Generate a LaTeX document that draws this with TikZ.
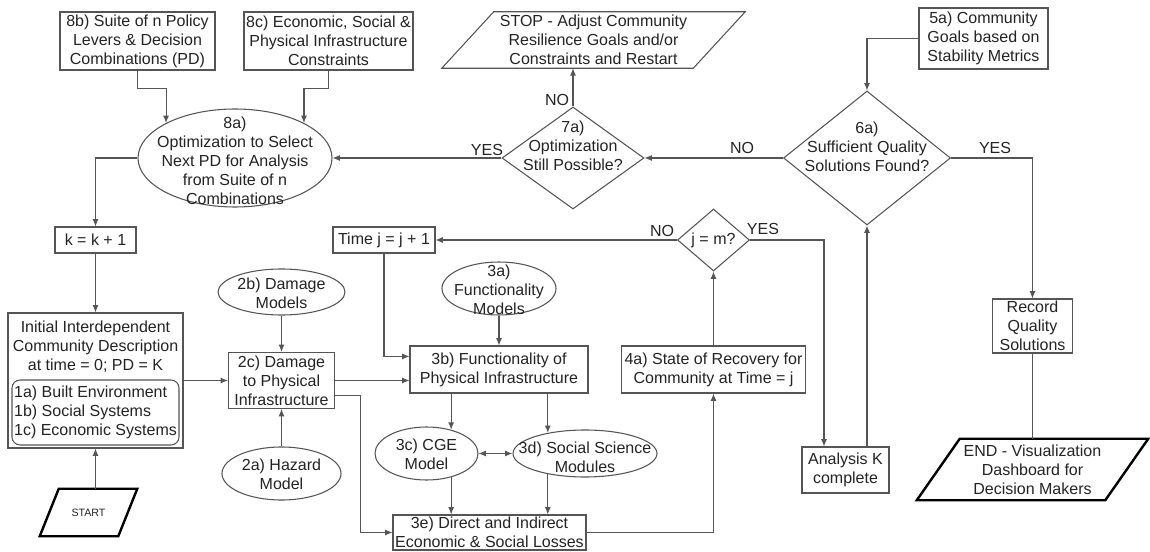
\documentclass[tikz,border=0pt]{standalone}
\usepackage{fontspec}
\setmainfont{Liberation Sans}
\usetikzlibrary{shapes.geometric,arrows.meta,calc}
\newdimen\pxu \pxu=0.75pt
\definecolor{lncol}{RGB}{85,85,85}
\definecolor{txcol}{RGB}{35,35,35}
\begin{document}
\begin{tikzpicture}[x=0.75pt,y=-0.75pt,
  font=\fontsize{12}{14.2}\selectfont,
  >={Latex[length=5.5pt,width=4.5pt]},
  every node/.style={text=txcol},
  box/.style={draw=lncol, line width=0.8pt, rectangle, inner sep=0pt, align=center},
  ell/.style={draw=lncol, line width=0.8pt, ellipse, inner sep=0pt},
  dia/.style={draw=lncol, line width=0.8pt, diamond, inner sep=0pt},
  txt/.style={align=center, inner sep=0pt},
  plain/.style={draw=lncol, line width=0.8pt},
  arr/.style={plain, ->},
  thickpar/.style={draw=black, line width=1.8pt, line join=miter}]
\useasboundingbox (0,0) rectangle (1150,552);

% top row
\node[box, minimum width=155\pxu, minimum height=58\pxu] (n8b) at (137.5,41) {8b) Suite of n Policy\\Levers \& Decision\\Combinations (PD)};
\node[box, minimum width=169\pxu, minimum height=58\pxu] (n8c) at (328.5,41) {8c) Economic, Social \&\\Physical Infrastructure\\Constraints};
\node[txt, minimum width=303\pxu, minimum height=56\pxu] (stop) at (593.5,40) {STOP - Adjust Community\\Resilience Goals and/or\\Constraints and Restart};
\draw[plain] (stop.south west) -- ($(stop.south east)+(-52,0)$) -- (stop.north east) -- ($(stop.north west)+(52,0)$) -- cycle;
\node[box, minimum width=129\pxu, minimum height=61\pxu] (n5a) at (983.5,38.5) {5a) Community\\Goals based on\\Stability Metrics};

% second row
\node[ell, minimum width=194\pxu, minimum height=98\pxu] (n8a) at (235,158) {};
\node[txt] (n8at) at (235,161) {8a)\\Optimization to Select\\Next PD for Analysis\\from Suite of n\\Combinations};
\node[dia, minimum width=142\pxu, minimum height=102\pxu] (d7a) at (573,158) {};
\node[txt] (d7at) at (573,146) {7a)\\Optimization\\Still Possible?};
\node[dia, minimum width=167\pxu, minimum height=134\pxu] (d6a) at (867,158) {};
\node[txt] (d6at) at (867,147) {6a)\\Sufficient Quality\\Solutions Found?};

\node[txt] (lyes7) at (487,150) {YES};
\node[txt] (lno6) at (742,148) {NO};
\node[txt] (lyes6) at (995,148) {YES};
\node[txt] (lno7) at (557,100) {NO};

% third row
\node[box, minimum width=81\pxu, minimum height=26\pxu] (nk) at (95.5,240) {k = k + 1};
\node[box, minimum width=102\pxu, minimum height=26\pxu] (tm) at (384,240) {Time j = j + 1};
\node[dia, minimum width=72\pxu, minimum height=62\pxu] (dj) at (713.5,240) {};
\node[txt] (djt) at (713.5,240) {j = m?};
\node[txt] (lnoj) at (662,231) {NO};
\node[txt] (lyesj) at (763,229) {YES};

% left block
\node[box, minimum width=175\pxu, minimum height=135\pxu] (init) at (95.5,380.5) {};
\node[txt] (initt) at (95.5,347) {Initial Interdependent\\Community Description\\at time = 0; PD = K};
\node[draw=lncol, line width=0.8pt, rounded corners=6pt, minimum width=167\pxu, minimum height=65\pxu, inner sep=0pt, align=left] (inner) at (95.5,412.5) {1a) Built Environment\\1b) Social Systems\\1c) Economic Systems};
\node[txt, minimum width=97\pxu, minimum height=47\pxu, font=\fontsize{8}{9}\selectfont] (start) at (88.5,512.5) {START};
\draw[thickpar] (start.south west) -- ($(start.south east)+(-19,0)$) -- (start.north east) -- ($(start.north west)+(19,0)$) -- cycle;

% damage column
\node[ell, minimum width=127\pxu, minimum height=46\pxu] (n2b) at (281.5,292) {};
\node[txt] (n2bt) at (281.5,293) {2b) Damage\\Models};
\node[box, minimum width=106\pxu, minimum height=56\pxu] (n2c) at (281.5,380.5) {2c) Damage\\to Physical\\Infrastructure};
\node[ell, minimum width=119\pxu, minimum height=53\pxu] (n2a) at (281.5,473.5) {};
\node[txt] (n2at) at (281.5,474) {2a) Hazard\\Model};

% functionality column
\node[ell, minimum width=114\pxu, minimum height=53\pxu] (n3a) at (499,288.5) {};
\node[txt] (n3at) at (499,290) {3a)\\Functionality\\Models};
\node[box, minimum width=178\pxu, minimum height=47\pxu] (n3b) at (499,369.5) {3b) Functionality of\\Physical Infrastructure};
\node[ell, minimum width=103\pxu, minimum height=53\pxu] (n3c) at (426.5,453.5) {};
\node[txt] (n3ct) at (426.5,454) {3c) CGE\\Model};
\node[ell, minimum width=144\pxu, minimum height=47\pxu] (n3d) at (585,453.5) {};
\node[txt] (n3dt) at (585,457) {3d) Social Science\\Modules};
\node[box, minimum width=193\pxu, minimum height=35\pxu] (n3e) at (489.5,532.5) {3e) Direct and Indirect\\Economic \& Social Losses};
\node[box, minimum width=184\pxu, minimum height=47\pxu] (n4a) at (713.5,369.5) {4a) State of Recovery for\\Community at Time = j};

% right side
\node[box, minimum width=87\pxu, minimum height=46\pxu] (nak) at (845.5,470) {Analysis K\\complete};
\node[box, minimum width=80\pxu, minimum height=54\pxu] (rec) at (1032.5,326) {Record\\Quality\\Solutions};
\node[txt, minimum width=231\pxu, minimum height=61\pxu] (fin) at (1032.5,469.5) {END - Visualization\\Dashboard for\\Decision Makers};
\draw[thickpar] (fin.south west) -- ($(fin.south east)+(-43,0)$) -- (fin.north east) -- ($(fin.north west)+(43,0)$) -- cycle;

% connectors
\draw[arr] (n8b.south) -- ++(0,18) -| (n8a.north west);
\draw[arr] (n8c.south) -- ++(0,18) -| (n8a.north east);
\draw[arr] (n8a.west) -| (nk.north);
\draw[arr] (nk.south) -- (init.north);
\draw[arr] (start.north -| init.south) -- (init.south);
\draw[arr] (init.east) -- (n2c.west);
\draw[arr] (n2b.south) -- (n2c.north);
\draw[arr] (n2a.north) -- (n2c.south);
\draw[arr] (n2c.east) -- (n2c.east -| n3b.west);
\draw[arr] ($(n2c.east)+(0,15)$) -- ++(25,0) |- (n3e.west);
\draw[arr] (tm.south) |- ($(n3b.north west)+(0,11)$);
\draw[arr] (dj.west) -- (tm.east);
\draw[arr] (n3a.south) -- (n3b.north);
\draw[arr] (n3b.south -| n3c.44) -- (n3c.44);
\draw[arr] (n3b.south -| n3d.151) -- (n3d.151);
\draw[plain, <->] (n3c.east) -- (n3d.west);
\draw[arr] (n3c.-44) -- (n3c.-44 |- n3e.north);
\draw[arr] (n3d.-151) -- (n3d.-151 |- n3e.north);
\draw[arr] (n3e.east) -| (n4a.south);
\draw[arr] (n4a.north) -- (dj.south);
\draw[arr] (dj.east) -| ($(nak.north)+(-21.5,0)$);
\draw[arr] ($(nak.north)+(21.5,0)$) -- (d6a.south);
\draw[arr] (n5a.west) -| (d6a.north);
\draw[arr] (d6a.east) -| (rec.north);
\draw[plain] (rec.south) -- (fin.north);
\draw[arr] (d6a.west) -- (d7a.east);
\draw[arr] (d7a.west) -- (n8a.east);
\draw[arr] (d7a.north) -- (d7a.north |- stop.south);
\end{tikzpicture}
\end{document}
